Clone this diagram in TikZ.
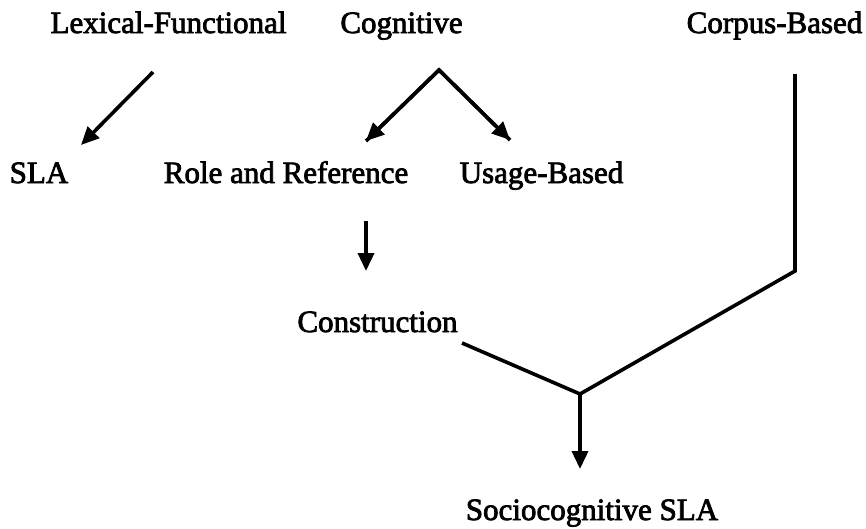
\documentclass[tikz,border=0pt]{standalone}
\usepackage{fontspec}
\setmainfont{Liberation Serif}
\newfontfamily\heavyserif[FakeBold=2.5]{Liberation Serif}
\usetikzlibrary{arrows.meta}
\begin{document}
\begin{tikzpicture}[x=1pt,y=-1pt,
  lbl/.style={font=\heavyserif\fontsize{31}{34}\selectfont, inner sep=0pt, anchor=base},
  con/.style={line width=3.6pt, line join=miter},
  arr/.style={con, -{Triangle[length=18pt,width=16pt]}}]
\useasboundingbox (0,0) rectangle (866,528);
\node[lbl] (lf) at (168.5,33) {Lexical-Functional};
\node[lbl] (cog) at (401.5,33) {Cognitive};
\node[lbl] (cb) at (774.5,33) {Corpus-Based};
\node[lbl] (sla) at (39,183) {SLA};
\node[lbl] (rr) at (286,183) {Role and Reference};
\node[lbl] (ub) at (541.5,183) {Usage-Based};
\node[lbl] (con) at (377.5,332) {Construction};
\node[lbl] (soc) at (592,520) {Sociocognitive SLA};
\coordinate (lfs) at (153,72);
\coordinate (lft) at (81,145);
\coordinate (apex) at (439,70);
\coordinate (rrt) at (366,141);
\coordinate (ubt) at (510,140);
\coordinate (vs) at (366,221);
\coordinate (vt) at (366,271);
\coordinate (cbs) at (795,74);
\coordinate (cbc) at (795,271);
\coordinate (cs) at (462,343);
\coordinate (j) at (580,394);
\coordinate (st) at (580,469);
\draw[arr] (lfs) -- (lft);
\draw[con] (rrt) -- (apex) -- (ubt);
\draw[arr] (apex) -- (rrt);
\draw[arr] (apex) -- (ubt);
\draw[arr] (vs) -- (vt);
\draw[con] (cbs) -- (cbc) -- (j) -- (cs);
\draw[arr] (j) -- (st);
\end{tikzpicture}
\end{document}
